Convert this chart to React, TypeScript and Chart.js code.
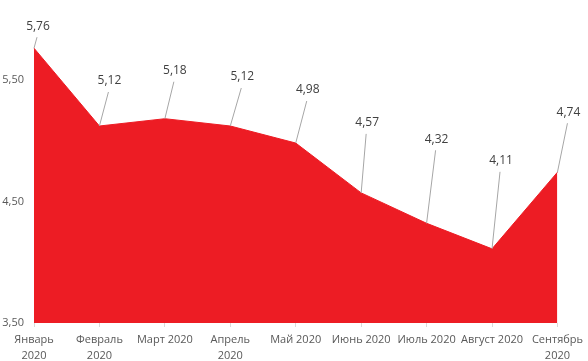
import React, { useEffect, useRef } from "react";
import { Chart, registerables } from "chart.js";

Chart.register(...registerables);

const categories: (string | string[])[] = [
  ["Январь", "2020"],
  ["Февраль", "2020"],
  "Март 2020",
  ["Апрель", "2020"],
  "Май 2020",
  "Июнь 2020",
  "Июль 2020",
  "Август 2020",
  ["Сентябрь", "2020"],
];
const values = [5.76, 5.12, 5.18, 5.12, 4.98, 4.57, 4.32, 4.11, 4.74];
const yTicks = [3.5, 4.5, 5.5];
// label placement relative to point (px)
const labelDx = [4, 10, 10, 12, 12, 6, 10, 9, 11];
const labelDy = [-22, -45, -48, -49, -53, -70, -84, -88, -60];

const fmt = (v: number) => v.toFixed(2).replace(".", ",");

const leaderPlugin = {
  id: "leaders",
  afterDatasetsDraw(chart: any) {
    const ctx = chart.ctx;
    const meta = chart.getDatasetMeta(0);
    ctx.save();
    meta.data.forEach((pt: any, i: number) => {
      const lx = pt.x + labelDx[i];
      const ly = pt.y + labelDy[i];
      ctx.strokeStyle = "#a6a6a6";
      ctx.lineWidth = 1;
      ctx.beginPath();
      ctx.moveTo(pt.x, pt.y);
      ctx.lineTo(lx - 1, ly + 11);
      ctx.stroke();
      ctx.fillStyle = "#404040";
      ctx.font = "12px 'Open Sans', 'Noto Sans', sans-serif";
      ctx.textAlign = "center";
      ctx.textBaseline = "middle";
      ctx.fillText(fmt(values[i]), lx, ly);
    });
    ctx.restore();
  },
};

export default function App() {
  const ref = useRef<HTMLCanvasElement>(null);
  useEffect(() => {
    document.body.style.margin = "0";
    const chart = new Chart(ref.current!, {
      type: "line",
      data: {
        labels: categories,
        datasets: [
          {
            data: values,
            fill: "start",
            backgroundColor: "#ED1C24",
            borderColor: "#ED1C24",
            borderWidth: 1,
            pointRadius: 0,
            tension: 0,
          },
        ],
      },
      options: {
        animation: false,
        responsive: false,
        maintainAspectRatio: false,
        layout: { padding: { top: 19, right: 29, left: 0, bottom: 0 } },
        plugins: { legend: { display: false }, tooltip: { enabled: false } },
        scales: {
          x: {
            offset: false,
            grid: {
              display: true,
              drawOnChartArea: false,
              drawTicks: true,
              tickLength: 4,
              color: "#d9d9d9",
            },
            border: { display: false },
            ticks: {
              color: "#595959",
              font: { family: "'Open Sans', 'Noto Sans', sans-serif", size: 11, lineHeight: 1.45 },
              maxRotation: 0,
              autoSkip: false,
              padding: 5,
            },
            afterFit: (s: any) => {
              s.height = 38;
            },
          },
          y: {
            min: 3.5,
            max: 6,
            grid: { display: false, drawTicks: false },
            border: { display: false },
            ticks: {
              color: "#595959",
              font: { family: "'Open Sans', 'Noto Sans', sans-serif", size: 11 },
              callback: (v: any) => fmt(Number(v)),
              padding: 10,
            },
            afterBuildTicks: (s: any) => {
              s.ticks = yTicks.map((v) => ({ value: v }));
            },
            afterFit: (s: any) => {
              s.width = 34;
            },
          },
        },
      },
      plugins: [leaderPlugin],
    });
    return () => chart.destroy();
  }, []);
  return (
    <div style={{ width: 588, height: 361 }}>
      <canvas ref={ref} width={588} height={361} />
    </div>
  );
}
